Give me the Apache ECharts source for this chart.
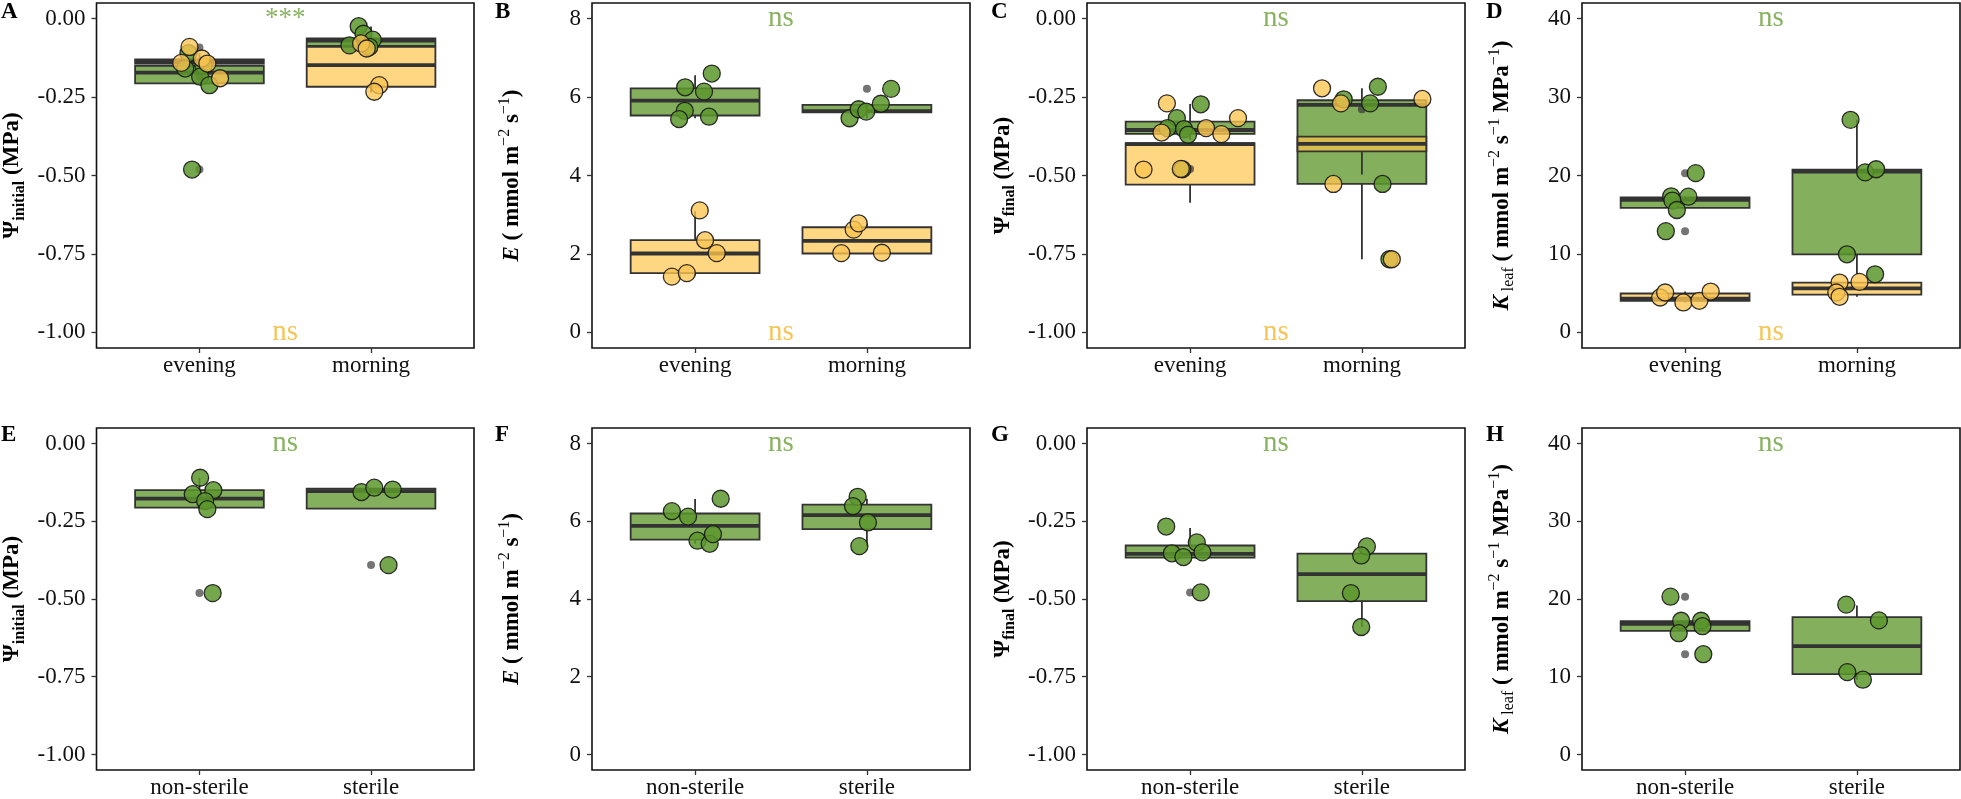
<!DOCTYPE html>
<html><head><meta charset="utf-8">
<script src="https://cdn.jsdelivr.net/npm/echarts@6/dist/echarts.min.js"></script>
<style>html,body{margin:0;padding:0;background:#fff}#c{width:1961px;height:799px}</style>
</head><body><div id="c"></div><script>
// ---------- categories & ticks ----------
const catsTop = ['evening', 'morning'];
const catsBottom = ['non-sterile', 'sterile'];
const ticksPsi = [-1, -0.75, -0.5, -0.25, 0];
const ticksE = [0, 2, 4, 6, 8];
const ticksK = [0, 10, 20, 30, 40];
const panelLetters = ['A', 'B', 'C', 'D', 'E', 'F', 'G', 'H'];
const annTopText = ['***', 'ns', 'ns', 'ns', 'ns', 'ns', 'ns', 'ns'];
const annBottomText = ['ns', 'ns', 'ns', 'ns', '', '', '', ''];

// ---------- box stats: [lower whisker, Q1, median, Q3, upper whisker] per category ----------
const boxA_green = [[-0.211, -0.206, -0.172, -0.150, -0.110], [-0.090, -0.087, -0.070, -0.063, -0.025]];
const boxA_orange = [[-0.143, -0.143, -0.138, -0.130, -0.127], [-0.235, -0.217, -0.148, -0.090, -0.079]];
const boxB_green = [[5.46, 5.53, 5.91, 6.22, 6.56], [5.46, 5.61, 5.64, 5.80, 5.83]];
const boxB_orange = [[1.45, 1.51, 2.01, 2.35, 3.09], [2.01, 2.01, 2.33, 2.68, 2.78]];
const boxC_green = [[-0.386, -0.367, -0.355, -0.328, -0.272], [-0.767, -0.527, -0.275, -0.260, -0.222]];
const boxC_orange = [[-0.587, -0.529, -0.400, -0.397, -0.397], [-0.497, -0.423, -0.399, -0.376, -0.376]];
const boxD_green = [[15.87, 15.87, 16.9, 17.2, 17.35], [7.4, 9.95, 20.5, 20.75, 27.1]];
const boxD_orange = [[3.81, 4.02, 4.3, 4.95, 5.2], [4.53, 4.8, 5.6, 6.35, 6.43]];
const boxE_green = [[-0.211, -0.206, -0.177, -0.150, -0.110], [-0.209, -0.209, -0.153, -0.145, -0.142]];
const boxF_green = [[5.42, 5.53, 5.88, 6.20, 6.57], [5.36, 5.80, 6.16, 6.43, 6.58]];
const boxG_green = [[-0.367, -0.367, -0.355, -0.328, -0.272], [-0.590, -0.507, -0.420, -0.354, -0.331]];
const boxH_green = [[15.89, 15.89, 16.8, 17.16, 17.2], [9.62, 10.34, 13.94, 17.67, 19.15]];

// ---------- boxplot outliers [category, value] ----------
const outA_green = [[1, -0.481]];
const outA_orange = [[1, -0.092], [1, -0.185]];
const outB_green = [[2, 6.21]];
const outB_orange = [];
const outC_green = [[1, -0.479]];
const outC_orange = [[2, -0.289]];
const outD_green = [[1, 20.3], [1, 12.9]];
const outD_orange = [];
const outE_green = [[1, -0.481], [2, -0.391]];
const outF_green = [];
const outG_green = [[1, -0.479]];
const outH_green = [[1, 20.3], [1, 12.9]];

// ---------- individual (jittered) observations [x position, value] ----------
const ptsA_green = [[0.936, -0.110], [1.023, -0.150], [0.917, -0.159], [1.004, -0.185], [1.058, -0.212], [0.957, -0.481],
  [1.928, -0.024], [1.956, -0.048], [2.010, -0.067], [1.874, -0.085], [1.990, -0.090]];
const ptsA_orange = [[0.942, -0.090], [1.014, -0.127], [0.894, -0.141], [1.046, -0.143], [1.120, -0.190],
  [1.942, -0.079], [1.975, -0.095], [2.048, -0.212], [2.019, -0.233]];
const ptsB_green = [[1.097, 6.60], [0.942, 6.25], [1.052, 6.14], [0.940, 5.65], [0.907, 5.44], [1.081, 5.50],
  [1.899, 5.46], [1.952, 5.69], [1.996, 5.63], [2.081, 5.83], [2.141, 6.21]];
const ptsB_orange = [[1.027, 3.11], [1.058, 2.35], [1.126, 2.02], [0.865, 1.42], [0.952, 1.51],
  [1.851, 2.02], [2.087, 2.03], [1.923, 2.62], [1.952, 2.78]];
const ptsC_green = [[1.062, -0.273], [0.923, -0.317], [0.868, -0.349], [0.965, -0.352], [0.988, -0.370], [0.955, -0.480],
  [2.093, -0.217], [1.894, -0.257], [2.048, -0.270], [2.120, -0.527], [2.160, -0.767]];
const ptsC_orange = [[0.865, -0.270], [1.279, -0.317], [1.093, -0.349], [0.834, -0.363], [1.182, -0.368], [0.729, -0.481], [0.946, -0.479],
  [1.768, -0.222], [1.878, -0.270], [2.352, -0.256], [1.834, -0.527], [2.174, -0.767]];
const ptsD_green = [[1.062, 20.3], [0.919, 17.35], [1.019, 17.3], [0.926, 16.8], [0.952, 15.6], [0.888, 12.9],
  [1.963, 27.1], [2.048, 20.4], [2.112, 20.8], [1.942, 9.95], [2.106, 7.4]];
const ptsD_orange = [[0.855, 4.44], [0.884, 5.08], [0.990, 3.81], [1.083, 4.02], [1.149, 5.20],
  [1.899, 6.35], [2.015, 6.43], [1.880, 5.08], [1.899, 4.53]];
const ptsE_green = [[1.004, -0.110], [0.961, -0.163], [1.081, -0.150], [1.033, -0.185], [1.046, -0.211], [1.077, -0.481],
  [1.944, -0.156], [2.019, -0.142], [2.126, -0.148], [2.102, -0.391]];
const ptsF_green = [[1.149, 6.58], [0.865, 6.26], [0.959, 6.12], [1.014, 5.50], [1.085, 5.42], [1.104, 5.67],
  [1.946, 6.63], [1.919, 6.39], [2.006, 5.97], [1.956, 5.36]];
const ptsG_green = [[0.861, -0.267], [1.039, -0.318], [0.894, -0.353], [0.961, -0.365], [1.072, -0.350], [1.062, -0.479],
  [2.029, -0.331], [1.996, -0.360], [1.936, -0.481], [1.996, -0.590]];
const ptsH_green = [[0.915, 20.3], [0.977, 17.2], [1.093, 17.2], [1.101, 16.5], [0.963, 15.6], [1.106, 12.9],
  [1.938, 19.28], [2.128, 17.25], [1.944, 10.59], [2.035, 9.62]];

// ---------- styles ----------
const F = '"Liberation Serif", "DejaVu Serif", serif';
const GREEN_BOX = 'rgba(98,152,48,0.78)';
const ORANGE_BOX = 'rgba(255,196,72,0.68)';
const GREEN_PT = 'rgba(92,150,45,0.85)';
const ORANGE_PT = 'rgba(253,196,80,0.78)';
const GREEN_TXT = '#6aa03a';
const ORANGE_TXT = '#f2b630';
const EDGE = '#333333';
const BOX_W = 0.75;

const scalePsi = { min: -1.05, max: 0.05, ticks: ticksPsi, fmt: v => v.toFixed(2) };
const scaleE = { min: -0.4, max: 8.4, ticks: ticksE, fmt: v => String(v) };
const scaleK = { min: -2, max: 42, ticks: ticksK, fmt: v => String(v) };

const namePsiInit = '{m|Ψ}{s|initial}{m| (MPa)}';
const namePsiFinal = '{m|Ψ}{s|final}{m| (MPa)}';
const nameE = '{i|E}{m| ( mmol m}{p|−2}{m| s}{p|−1}{m|)}';
const nameK = '{i|K}{sr| leaf}{m| ( mmol m}{p|−2}{m| s}{p|−1}{m| MPa}{p|−1}{m|)}';

const rich = {
  m: { fontFamily: F, fontWeight: 'bold', fontSize: 23, lineHeight: 30, color: '#000' },
  i: { fontFamily: F, fontWeight: 'bold', fontStyle: 'italic', fontSize: 23, lineHeight: 30, color: '#000' },
  s: { fontFamily: F, fontWeight: 'bold', fontSize: 16, lineHeight: 14, verticalAlign: 'bottom', color: '#000' },
  sr: { fontFamily: F, fontWeight: 'normal', fontSize: 16, lineHeight: 14, verticalAlign: 'bottom', color: '#000' },
  p: { fontFamily: F, fontWeight: 'normal', fontSize: 16, lineHeight: 12, verticalAlign: 'top', color: '#000' }
};

const panels = [
  { boxes: [boxA_green, boxA_orange], outs: [outA_green, outA_orange], pts: [ptsA_green, ptsA_orange], sc: scalePsi, cats: catsTop, name: namePsiInit, gap: 69 },
  { boxes: [boxB_green, boxB_orange], outs: [outB_green, outB_orange], pts: [ptsB_green, ptsB_orange], sc: scaleE, cats: catsTop, name: nameE, gap: 65 },
  { boxes: [boxC_green, boxC_orange], outs: [outC_green, outC_orange], pts: [ptsC_green, ptsC_orange], sc: scalePsi, cats: catsTop, name: namePsiFinal, gap: 69 },
  { boxes: [boxD_green, boxD_orange], outs: [outD_green, outD_orange], pts: [ptsD_green, ptsD_orange], sc: scaleK, cats: catsTop, name: nameK, gap: 65 },
  { boxes: [boxE_green], outs: [outE_green], pts: [ptsE_green], sc: scalePsi, cats: catsBottom, name: namePsiInit, gap: 69 },
  { boxes: [boxF_green], outs: [outF_green], pts: [ptsF_green], sc: scaleE, cats: catsBottom, name: nameE, gap: 65 },
  { boxes: [boxG_green], outs: [outG_green], pts: [ptsG_green], sc: scalePsi, cats: catsBottom, name: namePsiFinal, gap: 69 },
  { boxes: [boxH_green], outs: [outH_green], pts: [ptsH_green], sc: scaleK, cats: catsBottom, name: nameK, gap: 65 }
];

const lefts = [96, 592, 1087, 1582];
const tops = [3, 428];
const letterX = [1, 495, 991, 1486];
const letterY = [1, 424];

function boxRenderer(fill) {
  return function (params, api) {
    const x = api.value(0);
    const lo = api.value(1), q1 = api.value(2), md = api.value(3), q3 = api.value(4), hi = api.value(5);
    const a = api.coord([x - BOX_W / 2, q3]);
    const b = api.coord([x + BOX_W / 2, q1]);
    const hiP = api.coord([x, hi]), q3P = api.coord([x, q3]), q1P = api.coord([x, q1]), loP = api.coord([x, lo]);
    const mL = api.coord([x - BOX_W / 2, md]), mR = api.coord([x + BOX_W / 2, md]);
    const ls = { stroke: EDGE, lineWidth: 1.8 };
    return {
      type: 'group', children: [
        { type: 'line', shape: { x1: hiP[0], y1: hiP[1], x2: q3P[0], y2: q3P[1] }, style: ls },
        { type: 'line', shape: { x1: q1P[0], y1: q1P[1], x2: loP[0], y2: loP[1] }, style: ls },
        { type: 'rect', shape: { x: a[0], y: a[1], width: b[0] - a[0], height: b[1] - a[1] }, style: { fill: fill, stroke: EDGE, lineWidth: 1.8 } },
        { type: 'line', shape: { x1: mL[0], y1: mL[1], x2: mR[0], y2: mR[1] }, style: { stroke: EDGE, lineWidth: 3.8 } }
      ]
    };
  };
}

const grid = [], xAxis = [], yAxis = [], series = [], graphic = [];
panels.forEach((p, i) => {
  const col = i % 4, row = Math.floor(i / 4);
  grid.push({ left: lefts[col], top: tops[row], width: 378, height: 345, show: true, borderColor: '#111', borderWidth: 1.6, backgroundColor: 'transparent' });
  xAxis.push({
    gridIndex: i, type: 'value', min: 0.4, max: 2.6, position: 'bottom',
    axisLine: { show: false, onZero: false }, splitLine: { show: false },
    axisTick: { show: true, length: 5, customValues: [1, 2], lineStyle: { color: '#333', width: 1.3 } },
    axisLabel: { customValues: [1, 2], margin: 6, fontFamily: F, fontSize: 23, color: '#111',
      formatter: v => p.cats[Math.round(v) - 1] }
  });
  yAxis.push({
    gridIndex: i, type: 'value', min: p.sc.min, max: p.sc.max, position: 'left',
    axisLine: { show: false, onZero: false }, splitLine: { show: false },
    axisTick: { show: true, length: 5, customValues: p.sc.ticks, lineStyle: { color: '#333', width: 1.3 } },
    axisLabel: { customValues: p.sc.ticks, margin: 11, fontFamily: F, fontSize: 23, color: '#111', formatter: p.sc.fmt },
    name: p.name, nameLocation: 'middle', nameGap: p.gap, nameRotate: 90,
    nameTextStyle: { rich: rich }
  });
  const fills = [GREEN_BOX, ORANGE_BOX];
  const ptFills = [GREEN_PT, ORANGE_PT];
  p.boxes.forEach((bx, g) => {
    series.push({
      type: 'custom', xAxisIndex: i, yAxisIndex: i, silent: true, z: 2 + g,
      renderItem: boxRenderer(fills[g]),
      encode: { x: 0, y: [1, 2, 3, 4, 5] },
      data: bx.map((s, k) => [k + 1].concat(s))
    });
  });
  p.outs.forEach(o => {
    series.push({
      type: 'scatter', xAxisIndex: i, yAxisIndex: i, silent: true, z: 4,
      symbolSize: 8, itemStyle: { color: 'rgba(51,51,51,0.85)' }, data: o
    });
  });
  p.pts.forEach((pt, g) => {
    series.push({
      type: 'scatter', xAxisIndex: i, yAxisIndex: i, silent: true, z: 5 + g,
      symbolSize: 17, itemStyle: { color: ptFills[g], borderColor: 'rgba(25,25,25,0.9)', borderWidth: 1.3, opacity: 1 },
      data: pt
    });
  });
  const annData = [];
  if (annTopText[i]) annData.push({ value: [1.5, p.sc.ticks[p.sc.ticks.length - 1]], label: { formatter: annTopText[i], color: GREEN_TXT, fontSize: annTopText[i] === '***' ? 27 : 29 } });
  if (annBottomText[i]) annData.push({ value: [1.5, p.sc.ticks[0]], label: { formatter: annBottomText[i], color: ORANGE_TXT, fontSize: 29 } });
  series.push({
    type: 'scatter', xAxisIndex: i, yAxisIndex: i, silent: true, z: 8,
    symbolSize: 1, itemStyle: { color: 'rgba(0,0,0,0)' },
    label: { show: true, position: 'inside', fontFamily: F, textBorderWidth: 0 },
    data: annData
  });
  graphic.push({
    type: 'text', left: letterX[col], top: letterY[row],
    style: { text: panelLetters[i], font: 'bold 23px "Liberation Serif"', fill: '#000' }
  });
});

const chart = echarts.init(document.getElementById('c'), null, { renderer: 'canvas' });
chart.setOption({
  animation: false,
  backgroundColor: '#fff',
  grid, xAxis, yAxis, series, graphic
});
</script></body></html>
